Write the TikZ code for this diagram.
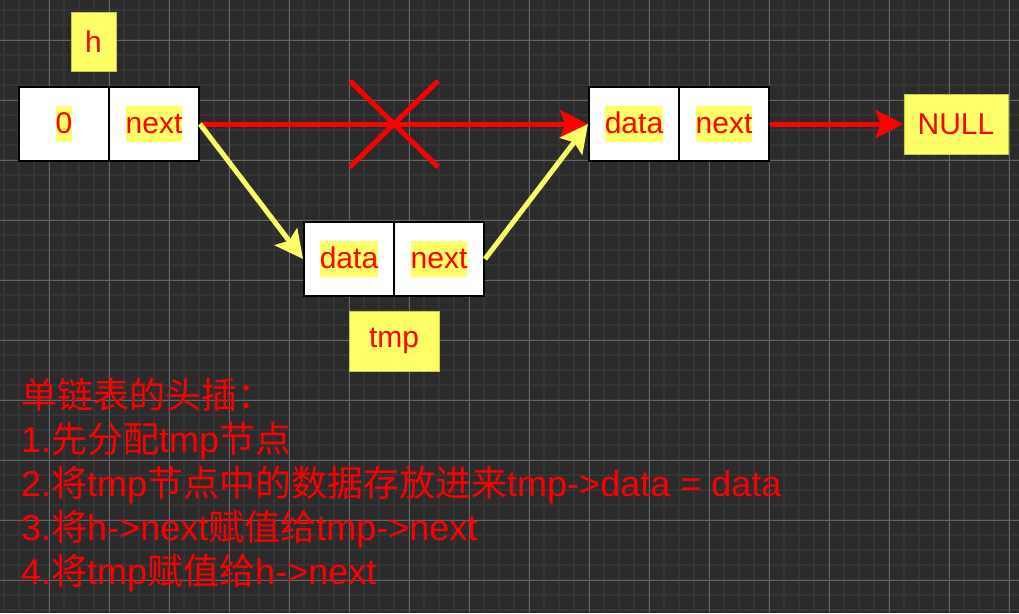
\documentclass[tikz,border=0pt]{standalone}
\usepackage{fontspec}
\setmainfont{Liberation Sans}
\newfontfamily\cjk{Noto Sans CJK SC}
\usetikzlibrary{arrows.meta}
\definecolor{bg}{HTML}{2B2B2B}
\definecolor{gminor}{HTML}{353535}
\definecolor{gmajor}{HTML}{666666}
\definecolor{hl}{HTML}{FFFF66}
\definecolor{hledge}{HTML}{C8C850}
\definecolor{rd}{HTML}{FF0000}
\newcommand{\hlbox}[1]{{\setlength{\fboxsep}{0pt}\colorbox{hl}{\rule[-9pt]{0pt}{36pt}#1}}}
\tikzset{
 cell/.style={draw=black, line width=2pt, fill=white, minimum width=90pt, minimum height=74pt, inner sep=0pt, font=\fontsize{30}{36}\selectfont, text=rd},
 tag/.style={draw=hledge, line width=1pt, fill=hl, inner sep=0pt, font=\fontsize{30}{36}\selectfont, text=rd},
 redarrow/.style={draw=rd, line width=5pt, -{Stealth[length=28pt,width=28pt,inset=5pt]}},
 yelarrow/.style={draw=hl, line width=5pt, -{Stealth[length=28pt,width=28pt,inset=5pt]}},
 crossline/.style={draw=rd, line width=5pt},
 note/.style={anchor=base west, inner sep=0pt, text=rd, font=\fontsize{36}{44}\selectfont},
 minorline/.style={draw=gminor, line width=2pt},
 majorline/.style={draw=gmajor, line width=1pt},
}
\begin{document}
\begin{tikzpicture}[x=1pt,y=-1pt]
\useasboundingbox (0,0) rectangle (1019,613);
\fill[bg] (0,0) rectangle (1019,613);
\foreach \x in {4,19,...,1019} \draw[minorline] (\x,0) -- (\x,613);
\foreach \y in {10,25,...,613} \draw[minorline] (0,\y) -- (1019,\y);
\foreach \x in {49,109,...,1019} \draw[majorline] (\x,0) -- (\x,613);
\foreach \y in {40,100,...,613} \draw[majorline] (0,\y) -- (1019,\y);

\node[cell] (h0) at (64,124) {\hlbox{0}};
\node[cell] (hn) at (154,124) {\hlbox{next}};
\node[cell] (td) at (349,259) {\hlbox{data}};
\node[cell] (tn) at (439,259) {\hlbox{next}};
\node[cell] (nd) at (634,124) {\hlbox{data}};
\node[cell] (nn) at (724,124) {\hlbox{next}};
\node[tag, minimum width=45pt, minimum height=59pt] (h) at (93.5,41.5) {h};
\node[tag, minimum width=104pt, minimum height=60pt] (null) at (956,124) {NULL};
\node[tag, minimum width=90pt, minimum height=60pt] (tmp) at (394,341) {tmp};

\draw[redarrow] (hn.east) -- (nd.west);
\draw[redarrow] (nn.east) -- (null.west);
\coordinate (c1) at (350,81);
\coordinate (c2) at (438,167);
\coordinate (c3) at (438,81);
\coordinate (c4) at (350,167);
\draw[crossline] (c1) -- (c2);
\draw[crossline] (c3) -- (c4);
\draw[yelarrow] (hn.east) -- (td.west);
\draw[yelarrow] (tn.east) -- (nd.west);

\node[note] (t1) at (21,408) {{\cjk 单链表的头插：}};
\node[note] (t2) at (21,452) {1.{\cjk 先分配}tmp{\cjk 节点}};
\node[note] (t3) at (21,496) {2.{\cjk 将}tmp{\cjk 节点中的数据存放进来}tmp->data = data};
\node[note] (t4) at (21,540) {3.{\cjk 将}h->next{\cjk 赋值给}tmp->next};
\node[note] (t5) at (21,584) {4.{\cjk 将}tmp{\cjk 赋值给}h->next};
\end{tikzpicture}
\end{document}
